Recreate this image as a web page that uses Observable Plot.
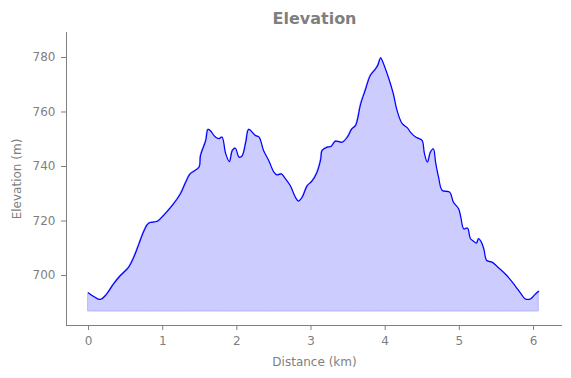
<!DOCTYPE html>
<html>
<head>
<meta charset="utf-8">
<script src="https://cdn.jsdelivr.net/npm/d3@7"></script>
<script src="https://cdn.jsdelivr.net/npm/@observablehq/plot@0.6"></script>
<style>
  html, body { margin: 0; padding: 0; background: #fff; }
  #chart svg { display: block; }
</style>
</head>
<body>
<div id="chart"></div>
<script>
const title = "Elevation";
const xLabel = "Distance (km)";
const yLabel = "Elevation (m)";
const xTicks = [0, 1, 2, 3, 4, 5, 6];
const yTicks = [700, 720, 740, 760, 780];
const distanceKm = [
  0.00, 0.07, 0.16, 0.23, 0.34, 0.43, 0.54, 0.61, 0.68, 0.75, 0.81, 0.93, 1.01, 1.13, 1.24, 1.31,
  1.37, 1.49, 1.51, 1.58, 1.61, 1.64, 1.71, 1.76, 1.80, 1.85, 1.90, 1.94, 1.98, 2.03, 2.07, 2.12,
  2.16, 2.25, 2.30, 2.36, 2.43, 2.50, 2.54, 2.60, 2.65, 2.72, 2.79, 2.83, 2.88, 2.95, 3.01, 3.08,
  3.13, 3.15, 3.22, 3.27, 3.33, 3.42, 3.49, 3.55, 3.60, 3.67, 3.73, 3.80, 3.87, 3.90, 3.94, 3.96,
  4.05, 4.11, 4.16, 4.23, 4.30, 4.34, 4.41, 4.46, 4.50, 4.53, 4.57, 4.61, 4.65, 4.68, 4.72, 4.77,
  4.87, 4.92, 4.99, 5.02, 5.06, 5.11, 5.15, 5.19, 5.23, 5.26, 5.29, 5.33, 5.37, 5.44, 5.51, 5.64,
  5.75, 5.84, 5.89, 5.96, 6.02, 6.07
];
const elevationM = [
  693.6, 692.3, 691.2, 692.7, 697.0, 700.0, 703.0, 706.7, 711.6, 716.5, 719.2, 719.9, 722.0, 725.7, 730.0, 734.2,
  737.3, 739.7, 744.0, 749.5, 753.6, 753.2, 750.8, 750.2, 750.8, 744.7, 741.8, 745.9, 746.7, 743.4, 743.8, 748.9,
  753.6, 751.4, 750.8, 745.9, 742.2, 737.9, 736.9, 737.3, 735.7, 733.0, 728.7, 727.3, 728.7, 733.0, 734.5, 737.8,
  742.5, 745.9, 747.1, 747.3, 749.3, 748.9, 750.8, 753.8, 755.0, 763.0, 767.9, 773.4, 775.8, 777.1, 779.9, 778.9,
  772.2, 766.7, 760.6, 755.7, 754.2, 752.6, 750.8, 750.2, 749.5, 744.7, 741.6, 745.2, 746.5, 741.6, 736.1, 731.2,
  730.6, 726.9, 724.5, 721.4, 717.1, 717.4, 713.5, 712.6, 711.9, 713.5, 712.6, 709.8, 705.5, 704.9, 703.3, 700.0,
  696.3, 693.0, 691.4, 691.4, 693.0, 694.2
];
const fillBase = 686.8;
const xDomain = [-0.297, 6.391];
const yDomain = [681.65, 789.17];

const data = distanceKm.map((d, i) => ({ d, e: elevationM[i] }));
const gray = "#7f7f7f";
const font = "DejaVu Sans, sans-serif";

const chart = Plot.plot({
  width: 571,
  height: 378,
  marginLeft: 66,
  marginRight: 9,
  marginTop: 32,
  marginBottom: 53,
  style: { fontFamily: font, fontSize: "12px", color: gray, background: "#fff" },
  x: { domain: xDomain },
  y: { domain: yDomain },
  marks: [
    Plot.areaY(data, { x: "d", y1: fillBase, y2: "e", fill: "#ccccff", stroke: "#b3b3ff", strokeWidth: 1, curve: "catmull-rom" }),
    Plot.lineY(data, { x: "d", y: "e", stroke: "#0000ff", strokeWidth: 1.2, curve: "catmull-rom" }),
    Plot.ruleX([xDomain[0]], { stroke: gray, strokeWidth: 1 }),
    Plot.ruleY([yDomain[0]], { stroke: gray, strokeWidth: 1 }),
    Plot.axisX({ ticks: xTicks, tickFormat: d => String(d), tickSize: 5, tickPadding: 6, stroke: gray, fill: gray, fontSize: 12,
      label: xLabel, labelAnchor: "center", labelArrow: "none", labelOffset: 40 }),
    Plot.axisY({ ticks: yTicks, tickFormat: d => String(d), tickSize: 5, tickPadding: 6, stroke: gray, fill: gray, fontSize: 12,
      label: yLabel, labelAnchor: "center", labelArrow: "none", labelOffset: 54 }),
    Plot.text([title], { frameAnchor: "top", dy: -20, text: d => d, fontWeight: "bold", fontSize: 16, fill: gray })
  ]
});
document.getElementById("chart").appendChild(chart);
</script>
</body>
</html>
